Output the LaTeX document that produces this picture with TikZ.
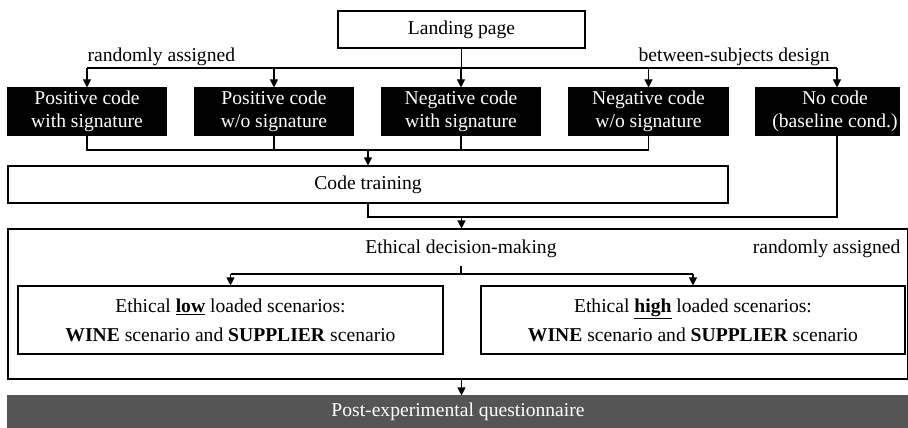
\documentclass[tikz,border=0pt]{standalone}
\usepackage{fontspec}
\setmainfont{Liberation Serif}
\usetikzlibrary{arrows.meta}
\definecolor{postgray}{RGB}{85,85,85}

\begin{document}
\begin{tikzpicture}[x=1pt,y=-1pt,line width=1.1pt,
    font=\fontsize{19.6}{23}\selectfont,
    >={Triangle[length=8pt,width=8pt]},
    box/.style={draw,inner sep=0pt,align=center},
    blackbox/.style={box,fill=black,text=white,minimum height=47pt},
    scenbox/.style={box,minimum height=68pt,font=\fontsize{19.6}{29}\selectfont}]
    \useasboundingbox (0,0) rectangle (908,428);
    \coordinate (splitline) at (0,68);
    \coordinate (mergeline) at (0,150);
    \coordinate (joinline) at (0,217);
    \coordinate (scenline) at (0,274);

    \node[box,minimum width=247pt,minimum height=37pt] (landing) at (461.5,29.5) {Landing page};
    \foreach \name/\x/\w/\txt in {pws/87/158/{Positive code\\with signature},
        pns/274/158/{Positive code\\w/o signature},
        nws/461/158/{Negative code\\with signature},
        nns/648.5/159/{Negative code\\w/o signature}}{
        \node[blackbox,minimum width=\w pt] (\name) at (\x,111.5) {\txt};
      }
    \node[blackbox,minimum width=143pt] (nocode) at (827.5,111.5)
    {\hspace*{15pt}No code\\\hspace*{15pt}(baseline cond.)};
    \node[anchor=base west,inner sep=0pt] (randlabel) at (87,62) {randomly assigned};
    \node[anchor=base west,inner sep=0pt] (designlabel) at (638,62) {between-subjects design};

    \node[box,minimum width=720pt,minimum height=37pt] (training) at (368,184.5) {Code training};
    \node[box,minimum width=900pt,minimum height=150pt] (ethics) at (458,304) {};
    \node[anchor=base,inner sep=8pt] (edm) at (461,253) {Ethical decision-making};
    \node[anchor=base east,inner sep=0pt] (randlabel2) at (901,253) {randomly assigned};
    \node[scenbox,minimum width=425pt] (low) at (230.5,320)
    {Ethical \underline{\textbf{low}} loaded scenarios:\\\textbf{WINE} scenario and \textbf{SUPPLIER} scenario};
    \node[scenbox,minimum width=424pt] (high) at (693,320)
    {Ethical \underline{\textbf{high}} loaded scenarios:\\\textbf{WINE} scenario and \textbf{SUPPLIER} scenario};
    \node[box,draw=postgray,fill=postgray,text=white,minimum width=900pt,minimum height=32pt] (post) at (458,412)
    {Post-experimental questionnaire};

    % random assignment
    \draw (landing.south) -- (landing.south |- splitline);
    \draw (pws.north |- splitline) -- ([xshift=9.5pt]nocode.north |- splitline);
    \foreach \n in {pws,pns,nws,nns}
    \draw[->] (\n.north |- splitline) -- (\n.north);
    \draw[->] ([xshift=9.5pt]nocode.north |- splitline) -- ([xshift=9.5pt]nocode.north);

    % into training
    \draw (pws.south) |- (nns.south |- mergeline) -- (nns.south);
    \foreach \n in {pns,nws}
    \draw (\n.south) -- (\n.south |- mergeline);
    \draw[->] (training.north |- mergeline) -- (training.north);

    % into decision-making
    \draw (training.south) |- ([xshift=9.5pt]nocode.south |- joinline) -- ([xshift=9.5pt]nocode.south);
    \draw[->] (landing.south |- joinline) -- (landing.south |- ethics.north);
    \draw (edm.south) -- (edm.south |- scenline);
    \draw (low.north |- scenline) -- (high.north |- scenline);
    \draw[->] (low.north |- scenline) -- (low.north);
    \draw[->] (high.north |- scenline) -- (high.north);
    \draw[->] (landing.south |- ethics.south) -- (landing.south |- post.north);
  \end{tikzpicture}
\end{document}
